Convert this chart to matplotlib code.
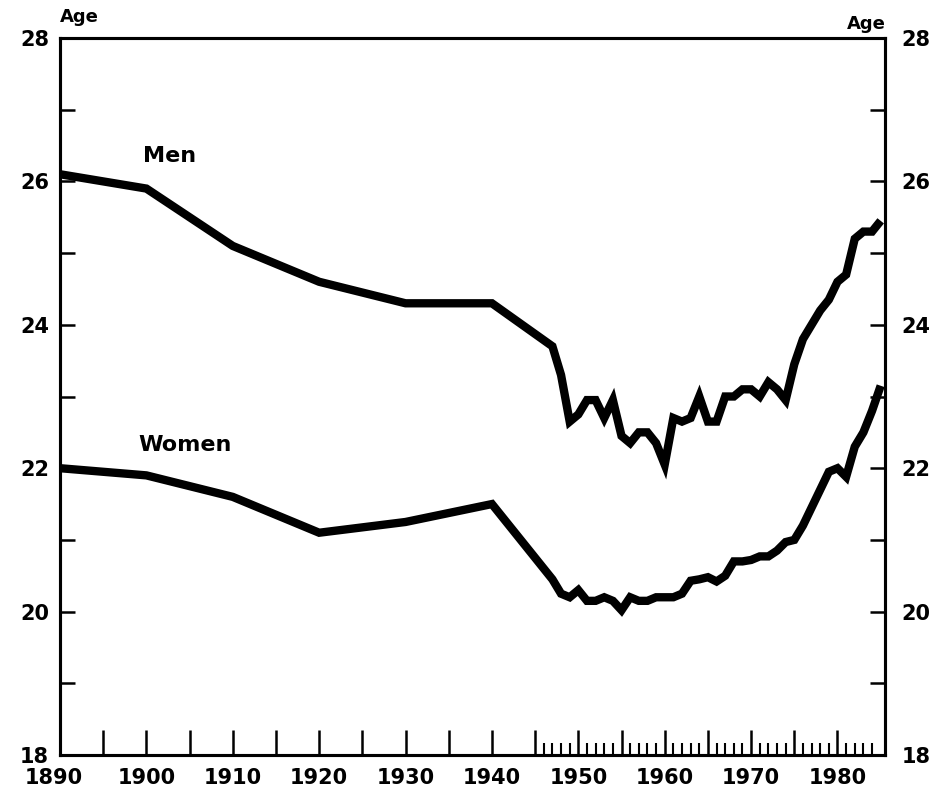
import matplotlib
matplotlib.use("Agg")
import matplotlib.pyplot as plt
import matplotlib.transforms as mtransforms
import numpy as np

# median age at first marriage
years = [1890, 1900, 1910, 1920, 1930, 1940] + list(range(1947, 1986))
men = [26.1, 25.9, 25.1, 24.6, 24.3, 24.3,
       23.7, 23.3, 22.65, 22.75, 22.95, 22.95, 22.7, 22.95, 22.45, 22.35,
       22.5, 22.5, 22.35, 22.05, 22.7, 22.65, 22.7, 23.0, 22.65, 22.65,
       23.0, 23.0, 23.1, 23.1, 23.0, 23.2, 23.1, 22.95, 23.45, 23.8,
       24.0, 24.2, 24.35, 24.6, 24.7, 25.2, 25.3, 25.3, 25.45]
women = [22.0, 21.9, 21.6, 21.1, 21.25, 21.5,
         20.45, 20.25, 20.2, 20.3, 20.15, 20.15, 20.2, 20.15, 20.02, 20.2,
         20.15, 20.15, 20.2, 20.2, 20.2, 20.25, 20.43, 20.45, 20.48, 20.42,
         20.5, 20.7, 20.7, 20.72, 20.77, 20.77, 20.85, 20.97, 21.0, 21.2,
         21.45, 21.7, 21.95, 22.0, 21.88, 22.3, 22.5, 22.8, 23.15]

age_labels = ["18", "20", "22", "24", "26", "28"]

FONT = "DejaVu Sans"

fig = plt.figure(figsize=(9.44, 7.98), dpi=100)
ax = fig.add_axes([60 / 944, 1 - 755 / 798, 825 / 944, 717 / 798])

ax.plot(years, men, color="black", lw=6, solid_joinstyle="miter", solid_capstyle="butt")
ax.plot(years, women, color="black", lw=6, solid_joinstyle="miter", solid_capstyle="butt")

ax.set_xlim(1890, 1985.5)
ax.set_ylim(18, 28)

for s in ax.spines.values():
    s.set_linewidth(2.2)

# x ticks: every 5 years, annual after 1945
major = list(range(1890, 1981, 5))
xlabels = [str(y) if y % 10 == 0 else "" for y in major]
ax.set_xticks(major)
ax.set_xticklabels(xlabels, fontfamily=FONT, fontweight="bold", fontsize=15)
minor = [y for y in range(1946, 1985) if y % 5 != 0]
ax.set_xticks(minor, minor=True)
ax.tick_params(axis="x", which="major", direction="in", length=18, width=1.8, pad=9, top=False)
ax.tick_params(axis="x", which="minor", direction="in", length=9, width=1.5, top=False)

# the 1890 label sits a bit left of the axis corner, as in the original
first = ax.get_xticklabels()[0]
first.set_transform(first.get_transform() +
                    mtransforms.ScaledTranslation(-6 / 100, 0, fig.dpi_scale_trans))

yt = list(range(18, 29, 2))
ax.set_yticks(yt)
ax.set_yticklabels(age_labels, fontfamily=FONT, fontweight="bold", fontsize=15)
ax.set_yticks(list(range(19, 28, 2)), minor=True)
ax.tick_params(axis="y", which="both", direction="in", length=11, width=1.8, pad=8)

ax2 = ax.twinx()
ax2.set_ylim(18, 28)
ax2.set_yticks(yt)
ax2.set_yticklabels(age_labels, fontfamily=FONT, fontweight="bold", fontsize=15)
ax2.set_yticks(list(range(19, 28, 2)), minor=True)
ax2.tick_params(axis="y", which="both", direction="in", length=11, width=1.8, pad=12)
for s in ax2.spines.values():
    s.set_linewidth(2.2)

ax.text(1902.7, 26.35, "Men", fontfamily=FONT, fontweight="bold", fontsize=16,
        ha="center", va="center")
ax.text(1904.5, 22.32, "Women", fontfamily=FONT, fontweight="bold", fontsize=16,
        ha="center", va="center")

fig.text(79 / 944, 1 - 17 / 798, "Age", fontfamily=FONT, fontweight="bold",
         fontsize=13, ha="center", va="center")
fig.text(866 / 944, 1 - 24 / 798, "Age", fontfamily=FONT, fontweight="bold",
         fontsize=13, ha="center", va="center")

fig.savefig("out.png", dpi=100)
